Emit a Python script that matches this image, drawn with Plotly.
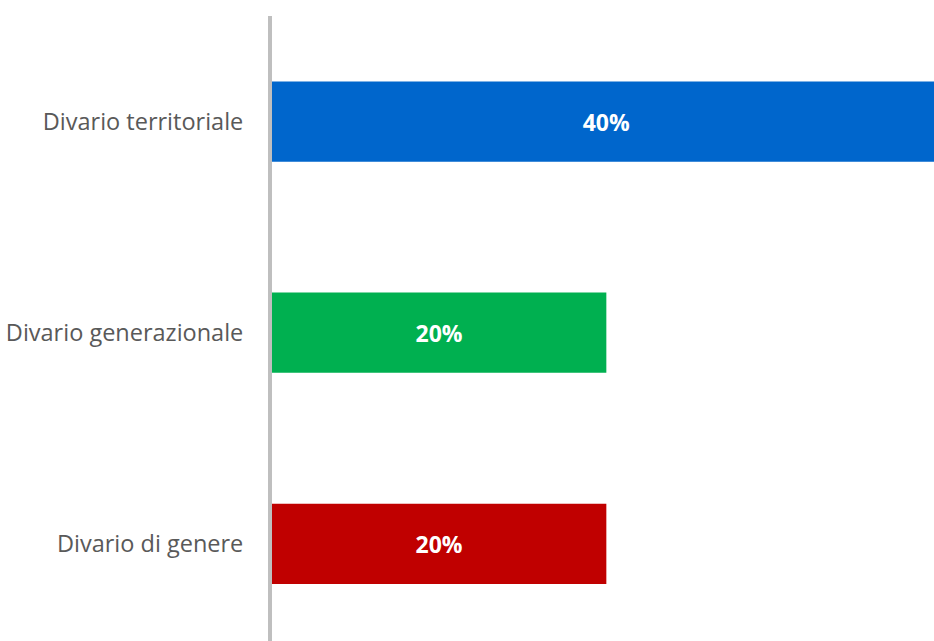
import plotly.graph_objects as go

# Categories listed bottom-to-top, with their shares (%) and bar colours
categories = ["Divario di genere", "Divario generazionale", "Divario territoriale"]
values = [20, 20, 40]
colors = ["#C00000", "#00B050", "#0066CC"]
labels = [f"{v}%" for v in values]

fig = go.Figure(
    go.Bar(
        x=values,
        y=categories,
        orientation="h",
        marker=dict(color=colors, line=dict(width=0)),
        width=0.38,
        text=labels,
        textposition="inside",
        insidetextanchor="middle",
        textangle=0,
        textfont=dict(family="Open Sans", size=23, color="white", weight="bold"),
        hoverinfo="skip",
    )
)

fig.update_layout(
    width=934,
    height=641,
    margin=dict(l=271.5, r=0, t=16, b=0),
    paper_bgcolor="white",
    plot_bgcolor="white",
    showlegend=False,
    uniformtext=dict(mode=False),
)

fig.update_xaxes(
    range=[0, 39.6],
    visible=False,
    showgrid=False,
    zeroline=False,
)

fig.update_yaxes(
    categoryorder="array",
    categoryarray=categories,
    range=[-0.46, 2.5],
    showline=True,
    linecolor="#BFBFBF",
    linewidth=4,
    showgrid=False,
    zeroline=False,
    ticks="",
    ticklabelstandoff=20,
    tickfont=dict(family="Open Sans", size=23.5, color="#595959"),
)

fig.write_html("out.html")
